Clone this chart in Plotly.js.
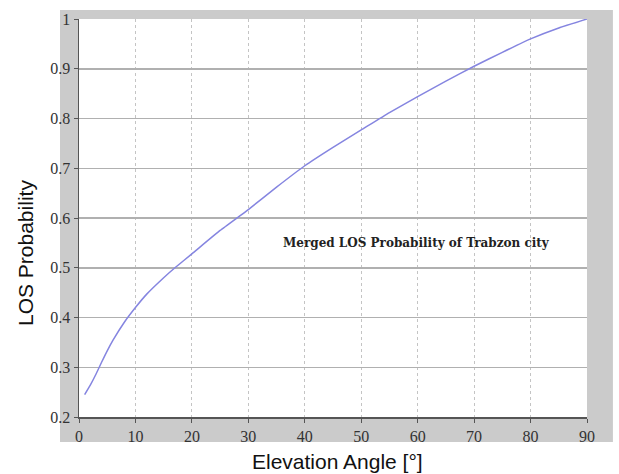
<!DOCTYPE html>
<html>
<head>
<meta charset="utf-8">
<script src="https://cdn.plot.ly/plotly-3.0.1.min.js"></script>
<style>html,body{margin:0;padding:0;background:#fff;}#chart{width:619px;height:474px;}</style>
</head>
<body>
<div id="chart"></div>
<script>
// Data
const elevationDeg = [1, 2, 3, 4, 5, 6, 8, 10, 12, 15, 17, 20, 25, 30, 35, 40, 45, 50, 55, 60, 65, 70, 75, 80, 85, 90];
const losProbability = [0.245, 0.264, 0.286, 0.31, 0.333, 0.354, 0.39, 0.42, 0.447, 0.48, 0.50, 0.528, 0.575, 0.617, 0.662, 0.705, 0.742, 0.777, 0.812, 0.844, 0.875, 0.905, 0.933, 0.96, 0.982, 1.0];
const xTickVals = [0, 10, 20, 30, 40, 50, 60, 70, 80, 90];
const xTickText = ["0", "10", "20", "30", "40", "50", "60", "70", "80", "90"];
const yTickVals = [0.2, 0.3, 0.4, 0.5, 0.6, 0.7, 0.8, 0.9, 1.0];
const yTickText = ["0.2", "0.3", "0.4", "0.5", "0.6", "0.7", "0.8", "0.9", "1"];
const legendText = "Merged LOS Probability of Trabzon city";
const xTitle = "Elevation Angle [°]";
const yTitle = "LOS Probability";

const trace = {
  x: elevationDeg,
  y: losProbability,
  type: "scatter",
  mode: "lines",
  line: {color: "#8585e0", width: 1.5, shape: "spline", smoothing: 0.4},
  hoverinfo: "skip",
  showlegend: false
};

const tickFont = {family: "'Liberation Serif', 'Times New Roman', serif", size: 16, color: "#333"};

const layout = {
  width: 619,
  height: 474,
  margin: {l: 79, r: 32, t: 19, b: 57, pad: 0},
  paper_bgcolor: "#ffffff",
  plot_bgcolor: "#ffffff",
  showlegend: false,
  xaxis: {
    range: [0, 90],
    tickvals: xTickVals,
    ticktext: xTickText,
    tickfont: tickFont,
    ticks: "outside",
    ticklen: 4,
    tickcolor: "#555",
    showline: true,
    linecolor: "#555",
    linewidth: 1.5,
    mirror: false,
    showgrid: true,
    gridcolor: "#c4c4c4",
    gridwidth: 1,
    griddash: "dot",
    zeroline: false,
    fixedrange: true
  },
  yaxis: {
    range: [0.2, 1.0],
    tickvals: yTickVals,
    ticktext: yTickText,
    tickfont: tickFont,
    ticks: "outside",
    ticklen: 4,
    tickcolor: "#555",
    showline: true,
    linecolor: "#555",
    linewidth: 1.5,
    mirror: false,
    showgrid: true,
    gridcolor: "#b0b0b0",
    gridwidth: 1.5,
    zeroline: false,
    fixedrange: true
  },
  shapes: [
    {type: "rect", xref: "paper", yref: "paper", x0: -0.0374, x1: 1.051, y0: -0.0628, y1: 1.0226,
     fillcolor: "#cbcbcb", line: {width: 0}, layer: "below"},
    {type: "rect", xref: "paper", yref: "paper", x0: 0, x1: 1, y0: 0, y1: 1,
     fillcolor: "#ffffff", line: {width: 0}, layer: "below"}
  ],
  annotations: [
    {text: "<b>" + legendText + "</b>", x: 59.8, y: 0.55, xref: "x", yref: "y",
     showarrow: false, xanchor: "center", yanchor: "middle",
     font: {family: "'DejaVu Serif', serif", size: 12, color: "#222"}},
    {text: xTitle, x: 0.508, y: -0.1106, xref: "paper", yref: "paper",
     showarrow: false, xanchor: "center", yanchor: "middle",
     font: {family: "'Liberation Sans', Arial, sans-serif", size: 21, color: "#111"}},
    {text: yTitle, x: -0.1063, y: 0.412, xref: "paper", yref: "paper", textangle: -90,
     showarrow: false, xanchor: "center", yanchor: "middle",
     font: {family: "'Liberation Sans', Arial, sans-serif", size: 21, color: "#111"}}
  ]
};

Plotly.newPlot("chart", [trace], layout, {displayModeBar: false, staticPlot: true});
</script>
</body>
</html>
